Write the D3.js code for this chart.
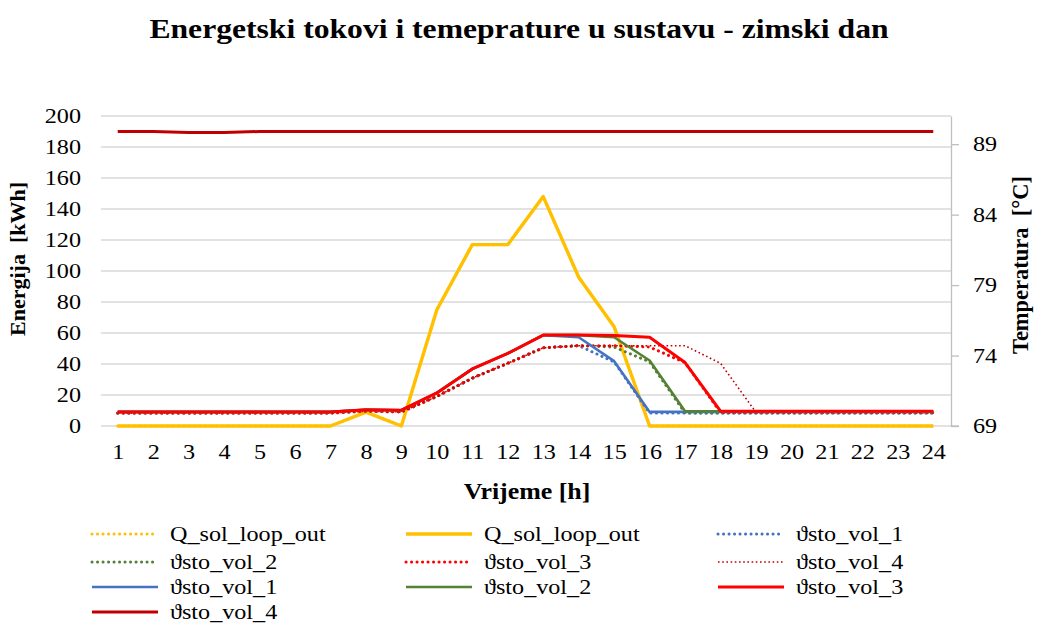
<!DOCTYPE html>
<html><head><meta charset="utf-8">
<script src="https://cdn.jsdelivr.net/npm/d3@7"></script>
<style>
html,body{margin:0;padding:0;background:#fff;}
</style></head>
<body><svg id="c" width="1038" height="623"></svg>
<script>
const hours = [1,2,3,4,5,6,7,8,9,10,11,12,13,14,15,16,17,18,19,20,21,22,23,24];
const leftTicks = [0,20,40,60,80,100,120,140,160,180,200];
const rightTicks = [69,74,79,84,89];
// Energy [kWh]
const qSolLoopOutDotted = [0,0,0,0,0,0,0,9,0,75,117,117,148,96,64,0,0,0,0,0,0,0,0,0];
const qSolLoopOut       = [0,0,0,0,0,0,0,9,0,75,117,117,148,96,64,0,0,0,0,0,0,0,0,0];
// Temperatures [°C], dotted series
const vol1Dotted = [69.92,69.92,69.92,69.92,69.92,69.92,69.92,70.05,70.0,71.1,72.4,73.45,74.55,74.7,73.55,69.92,69.92,69.92,69.92,69.92,69.92,69.92,69.92,69.92];
const vol2Dotted = [69.92,69.92,69.92,69.92,69.92,69.92,69.92,70.05,70.0,71.1,72.4,73.45,74.55,74.7,74.6,73.55,69.92,69.92,69.92,69.92,69.92,69.92,69.92,69.92];
const vol3Dotted = [69.92,69.92,69.92,69.92,69.92,69.92,69.92,70.05,70.0,71.1,72.4,73.45,74.55,74.7,74.7,74.6,73.5,69.95,69.95,69.95,69.95,69.95,69.95,69.95];
const vol4Dotted = [69.92,69.92,69.92,69.92,69.92,69.92,69.92,70.05,70.0,71.1,72.4,73.45,74.55,74.7,74.7,74.7,74.7,73.45,69.97,69.97,69.97,69.97,69.97,69.97];
// Temperatures [°C], solid series
const vol1Solid = [70.0,70.0,70.0,70.0,70.0,70.0,70.0,70.15,70.12,71.35,73.05,74.15,75.45,75.3,73.6,70.0,70.0,70.0,70.0,70.0,70.0,70.0,70.0,70.0];
const vol2Solid = [70.0,70.0,70.0,70.0,70.0,70.0,70.0,70.15,70.12,71.35,73.05,74.15,75.45,75.45,75.3,73.65,70.05,70.05,70.05,70.05,70.05,70.05,70.05,70.05];
const vol3Solid = [70.0,70.0,70.0,70.0,70.0,70.0,70.0,70.15,70.12,71.35,73.05,74.15,75.45,75.45,75.42,75.3,73.5,70.05,70.05,70.05,70.05,70.05,70.05,70.05];
const vol4Solid = [89.9,89.9,89.83,89.83,89.9,89.9,89.9,89.9,89.9,89.9,89.9,89.9,89.9,89.9,89.9,89.9,89.9,89.9,89.9,89.9,89.9,89.9,89.9,89.9];

const seriesNames = ["Q_sol_loop_out","Q_sol_loop_out","ϑsto_vol_1","ϑsto_vol_2","ϑsto_vol_3","ϑsto_vol_4","ϑsto_vol_1","ϑsto_vol_2","ϑsto_vol_3","ϑsto_vol_4"];
const title = "Energetski tokovi i temeprature u sustavu - zimski dan";

const series = [
  {name:seriesNames[0], values:qSolLoopOutDotted, axis:"L", color:"#FFC000", w:3, dash:"0.1,5.4", cap:"round"},
  {name:seriesNames[1], values:qSolLoopOut, axis:"L", color:"#FFC000", w:3.4, dash:null, cap:"butt"},
  {name:seriesNames[2], values:vol1Dotted, axis:"R", color:"#4472C4", w:3, dash:"0.1,5.4", cap:"round"},
  {name:seriesNames[3], values:vol2Dotted, axis:"R", color:"#548235", w:3, dash:"0.1,5.4", cap:"round"},
  {name:seriesNames[4], values:vol3Dotted, axis:"R", color:"#FF0000", w:3, dash:"0.1,5.4", cap:"round"},
  {name:seriesNames[5], values:vol4Dotted, axis:"R", color:"#C00000", w:1.6, dash:"1.6,2.6", cap:"butt"},
  {name:seriesNames[6], values:vol1Solid, axis:"R", color:"#4472C4", w:2.6, dash:null, cap:"butt"},
  {name:seriesNames[7], values:vol2Solid, axis:"R", color:"#548235", w:2.6, dash:null, cap:"butt"},
  {name:seriesNames[8], values:vol3Solid, axis:"R", color:"#FF0000", w:3, dash:null, cap:"butt"},
  {name:seriesNames[9], values:vol4Solid, axis:"R", color:"#C00000", w:3, dash:null, cap:"butt"}
];

const FONT = '"Times New Roman",Tinos,"Nimbus Roman","Liberation Serif",serif';
const STRETCH = 1.15;
function stretch(sel){
  sel.each(function(){
    const w = this.getComputedTextLength();
    if (w > 0) { this.setAttribute("textLength", w*STRETCH); this.setAttribute("lengthAdjust","spacingAndGlyphs"); }
  });
}

const svg = d3.select("#c");
const L = 100, R = 951, T = 116, B = 426;
const x = d3.scaleLinear().domain([0.5, 24.5]).range([L, R]);
const yL = d3.scaleLinear().domain([0, 200]).range([B, T]);
const yR = d3.scaleLinear().domain([69, 91]).range([B, T]);

// title
svg.append("text").attr("x", 519).attr("y", 38).attr("text-anchor","middle")
  .attr("font-family",FONT).attr("font-size",27.5).attr("font-weight","bold").text(title).call(stretch);

// gridlines
svg.append("g").selectAll("line").data(leftTicks).join("line")
  .attr("x1", L+1).attr("x2", R).attr("y1", d=>yL(d)).attr("y2", d=>yL(d))
  .attr("stroke","#D9D9D9").attr("stroke-width",1.5);

// left axis
const gl = svg.append("g").attr("transform",`translate(${L},0)`)
  .call(d3.axisLeft(yL).tickValues(leftTicks).tickSize(0).tickPadding(19));
gl.attr("font-family",FONT).attr("font-size",21);
gl.select(".domain").remove();
gl.selectAll("text").attr("fill","#000").call(stretch);

// right axis
const gr = svg.append("g").attr("transform",`translate(${R},0)`)
  .call(d3.axisRight(yR).tickValues(rightTicks).tickSizeInner(8).tickSizeOuter(0).tickPadding(14));
gr.attr("font-family",FONT).attr("font-size",21);
gr.select(".domain").attr("stroke","#BFBFBF").attr("stroke-width",1.3);
gr.selectAll(".tick line").attr("stroke","#BFBFBF").attr("stroke-width",1.3);
gr.selectAll("text").attr("fill","#000").call(stretch);
svg.append("line").attr("x1",R).attr("x2",R+8).attr("y1",B).attr("y2",B).attr("stroke","#BFBFBF").attr("stroke-width",1.3);

// x axis
const gx = svg.append("g").attr("transform",`translate(0,${B})`)
  .call(d3.axisBottom(x).tickValues(hours).tickSize(0).tickPadding(18).tickFormat(d3.format("d")));
gx.attr("font-family",FONT).attr("font-size",21);
gx.select(".domain").remove();
gx.selectAll("text").attr("fill","#000").call(stretch);

// axis titles
svg.append("text").attr("x", 527).attr("y", 499).attr("text-anchor","middle")
  .attr("font-family",FONT).attr("font-size",22.5).attr("font-weight","bold").text("Vrijeme [h]").call(stretch);
svg.append("text").attr("transform","translate(25,259) rotate(-90)").attr("text-anchor","middle")
  .attr("font-family",FONT).attr("font-size",22).attr("font-weight","bold").style("white-space","pre").text("Energija  [kWh]");
svg.append("text").attr("transform","translate(1028,265) rotate(-90)").attr("text-anchor","middle")
  .attr("font-family",FONT).attr("font-size",22.5).attr("font-weight","bold").style("white-space","pre").text("Temperatura  [°C]");

// lines
const g = svg.append("g");
series.forEach(s => {
  const ys = s.axis === "L" ? yL : yR;
  const line = d3.line().x((d,i)=>x(hours[i])).y(d=>ys(d));
  const p = g.append("path").datum(s.values).attr("d", line)
    .attr("fill","none").attr("stroke", s.color).attr("stroke-width", s.w)
    .attr("stroke-linejoin","round").attr("stroke-linecap", s.cap);
  if (s.dash) p.attr("stroke-dasharray", s.dash);
});

// legend
const colX = [92, 406, 718];
const rowY = [534, 562, 587, 612];
const lg = svg.append("g");
series.forEach((s,i) => {
  const c = i % 3, r = Math.floor(i / 3);
  const gx0 = colX[c], gy = rowY[r];
  const ln = lg.append("line").attr("x1", gx0).attr("x2", gx0+66).attr("y1", gy).attr("y2", gy)
    .attr("stroke", s.color).attr("stroke-width", s.w).attr("stroke-linecap", s.cap);
  if (s.dash) ln.attr("stroke-dasharray", s.dash);
  lg.append("text").attr("x", gx0+78).attr("y", gy+7).attr("font-family",FONT).attr("font-size",21)
    .text(s.name).call(stretch);
});
</script></body></html>
